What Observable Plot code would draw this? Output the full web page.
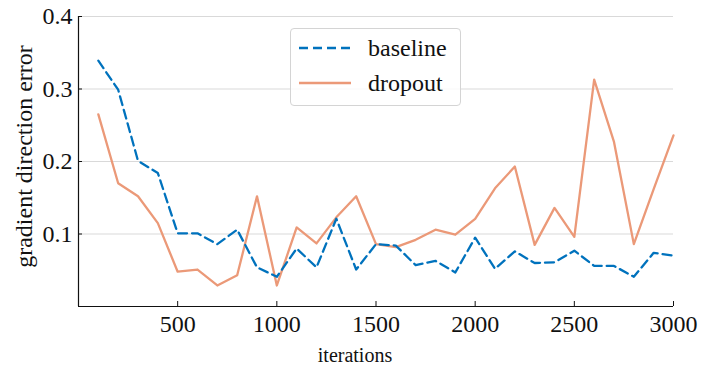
<!DOCTYPE html>
<html>
<head>
<meta charset="utf-8">
<script src="https://cdn.jsdelivr.net/npm/d3@7"></script>
<script src="https://cdn.jsdelivr.net/npm/@observablehq/plot@0.6"></script>
<style>
  html, body { margin: 0; padding: 0; background: #fff; }
  #wrap { position: relative; width: 703px; height: 365px; font-family: 'Liberation Serif', serif; }
  #wrap svg text { font-family: 'Liberation Serif', serif !important; }
  #legend { position: absolute; left: 290px; top: 28px; width: 169px; height: 76px; border: 1px solid #d4d4d4; border-radius: 4px; background: rgba(255,255,255,0.85); }
  #legend .row { position: absolute; left: 0; height: 30px; display: flex; align-items: center; }
  #legend .row span { font-family: 'Liberation Serif', serif; font-size: 24px; color: #111; margin-left: 17px; }
</style>
</head>
<body>
<div id="wrap"></div>
<script>
const iterations = [100, 200, 300, 400, 500, 600, 700, 800, 900, 1000,
  1100, 1200, 1300, 1400, 1500, 1600, 1700, 1800, 1900, 2000,
  2100, 2200, 2300, 2400, 2500, 2600, 2700, 2800, 2900, 3000];
const baseline = [0.339, 0.299, 0.201, 0.184, 0.101, 0.101, 0.086, 0.106, 0.054, 0.041,
  0.080, 0.054, 0.121, 0.051, 0.086, 0.084, 0.057, 0.063, 0.047, 0.095,
  0.052, 0.076, 0.060, 0.061, 0.077, 0.056, 0.056, 0.041, 0.074, 0.070];
const dropout = [0.265, 0.170, 0.152, 0.115, 0.048, 0.051, 0.029, 0.043, 0.152, 0.029,
  0.109, 0.087, 0.123, 0.152, 0.086, 0.082, 0.092, 0.106, 0.099, 0.121,
  0.163, 0.193, 0.085, 0.136, 0.096, 0.313, 0.227, 0.086, 0.162, 0.236];
const xTicks = [500, 1000, 1500, 2000, 2500, 3000];
const yTicks = [0.1, 0.2, 0.3, 0.4];
const seriesNames = ["baseline", "dropout"];
const seriesColors = ["#0072bd", "#eb9978"];

const baseData = iterations.map((it, i) => ({it, v: baseline[i]}));
const dropData = iterations.map((it, i) => ({it, v: dropout[i]}));
const FONT = "Liberation Serif";

const chart = Plot.plot({
  width: 703,
  height: 365,
  marginLeft: 78,
  marginRight: 30,
  marginTop: 16,
  marginBottom: 59,
  style: {fontFamily: "'Liberation Serif', serif", fontSize: "24px", color: "#111", background: "#fff"},
  x: {domain: [0, 3000]},
  y: {domain: [0, 0.4]},
  marks: [
    Plot.gridY(yTicks, {stroke: "#d9d9d9", strokeOpacity: 1, strokeWidth: 1.2}),
    Plot.line(dropData, {x: "it", y: "v", stroke: seriesColors[1], strokeWidth: 2.3}),
    Plot.line(baseData, {x: "it", y: "v", stroke: seriesColors[0], strokeWidth: 2.3, strokeDasharray: "9,5"}),
    Plot.axisY(yTicks, {tickSize: -4, tickPadding: 10, tickFormat: d3.format(".1f"), label: null, stroke: "#111", fontFamily: FONT, fontSize: 24}),
    Plot.axisX(xTicks, {tickSize: -5, tickPadding: 13, tickFormat: d => String(d), label: null, stroke: "#111", fontFamily: FONT, fontSize: 24}),
    Plot.ruleX([0], {stroke: "#111", strokeWidth: 1.2}),
    Plot.ruleY([0], {stroke: "#111", strokeWidth: 1.2}),
    Plot.text(["iterations"], {frameAnchor: "bottom", dx: -21, dy: 55, lineAnchor: "bottom", fontSize: 20, fontFamily: FONT, fill: "#111"}),
    Plot.text(["gradient direction error"], {frameAnchor: "left", textAnchor: "middle", rotate: -90, dx: -54, dy: -5, lineAnchor: "middle", fontSize: 24, fontFamily: FONT, fill: "#111"})
  ]
});
const wrap = document.getElementById("wrap");
wrap.appendChild(chart);

const legend = document.createElement("div");
legend.id = "legend";
seriesNames.forEach((name, i) => {
  const row = document.createElement("div");
  row.className = "row";
  row.style.top = (i === 0 ? 4 : 39) + "px";
  row.style.left = "8px";
  const dash = i === 0 ? 'stroke-dasharray="9,5"' : "";
  row.innerHTML = `<svg width="52" height="10"><line x1="0" y1="5" x2="52" y2="5" stroke="${seriesColors[i]}" stroke-width="2.3" ${dash}/></svg><span>${name}</span>`;
  legend.appendChild(row);
});
wrap.appendChild(legend);
</script>
</body>
</html>
